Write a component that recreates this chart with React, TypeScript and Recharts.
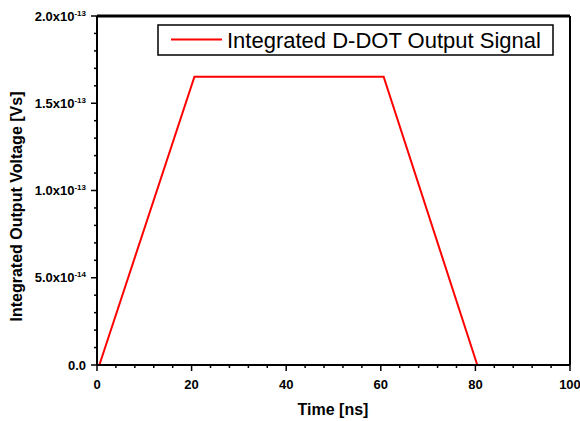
import { Legend, Line, LineChart, ReferenceLine, XAxis, YAxis } from "recharts";

const times = [0.5, 20.6, 60.6, 80.4];
const volts = [0, 1.652e-13, 1.652e-13, 0];

const xTicks = [0, 4, 8, 12, 16, 20, 24, 28, 32, 36, 40, 44, 48, 52, 56, 60, 64, 68, 72, 76, 80, 84, 88, 92, 96, 100];
const xMajor = [0, 20, 40, 60, 80, 100];
const yTicks = [
  0, 1e-14, 2e-14, 3e-14, 4e-14, 5e-14, 6e-14, 7e-14, 8e-14, 9e-14, 1e-13,
  1.1e-13, 1.2e-13, 1.3e-13, 1.4e-13, 1.5e-13, 1.6e-13, 1.7e-13, 1.8e-13, 1.9e-13, 2e-13,
];
const yMajor = [0, 5e-14, 1e-13, 1.5e-13, 2e-13];
const xMax = 100;
const yMax = 2e-13;

const seriesName = "Integrated D-DOT Output Signal";

const data = times.map((t, i) => ({ t, v: volts[i] }));

const FONT = "'Liberation Sans', Arial, sans-serif";

function isMajor(list: number[], v: number) {
  return list.some((m) => Math.abs(m - v) < Math.abs(m) * 1e-6 + 1e-30);
}

function XTick(props: any) {
  const { x, y, payload } = props;
  const major = isMajor(xMajor, payload.value);
  return (
    <g>
      <line x1={x} x2={x} y1={y} y2={y + (major ? 6 : 3)} stroke="#000" strokeWidth={1.5} />
      {major && (
        <text x={x} y={y + 23.5} textAnchor="middle" fontFamily={FONT} fontWeight="bold" fontSize={13} fill="#000">
          {payload.value}
        </text>
      )}
    </g>
  );
}

function YTick(props: any) {
  const { x, y, payload } = props;
  const v: number = payload.value;
  const major = isMajor(yMajor, v);
  let base = "0.0";
  let exp = "";
  if (v !== 0) {
    const e = Math.floor(Math.log10(v) + 1e-9);
    base = (v / Math.pow(10, e)).toFixed(1) + "x10";
    exp = String(e);
  }
  return (
    <g>
      <line x1={x - (major ? 6 : 3)} x2={x} y1={y} y2={y} stroke="#000" strokeWidth={1.5} />
      {major && (
        <text x={x - 11} y={y + 4.5} textAnchor="end" fontFamily={FONT} fontWeight="bold" fontSize={13} fill="#000">
          {base}
          {exp && (
            <tspan dy={-5} fontSize={8}>
              {exp}
            </tspan>
          )}
        </text>
      )}
    </g>
  );
}

function Title(props: any) {
  const { px, py, rot, text } = props;
  return (
    <text
      x={px}
      y={py}
      transform={rot ? `rotate(${rot} ${px} ${py})` : undefined}
      textAnchor="middle"
      fontFamily={FONT}
      fontWeight="bold"
      fontSize={16}
      fill="#000"
    >
      {text}
    </text>
  );
}

function LegendBox() {
  return (
    <svg width={398} height={33} style={{ display: "block" }}>
      <rect x={1} y={1} width={395} height={30} fill="#fff" stroke="#000" strokeWidth={1.5} />
      <line x1={14} x2={65} y1={15.5} y2={15.5} stroke="#ff0000" strokeWidth={2} />
      <text x={70} y={23.5} fontFamily={FONT} fontSize={22} fill="#000">
        {seriesName}
      </text>
    </svg>
  );
}

export default function App() {
  return (
    <div style={{ position: "absolute", left: 0, top: 0, background: "#fff" }}>
      <LineChart width={580} height={421} data={data} margin={{ top: 16, right: 10, left: 0, bottom: 0 }}>
        <XAxis
          dataKey="t"
          type="number"
          domain={[0, xMax]}
          ticks={xTicks}
          interval={0}
          height={56}
          tickSize={0}
          tickMargin={0}
          tickLine={false}
          tick={<XTick />}
          axisLine={{ stroke: "#000", strokeWidth: 2 }}
          label={<Title px={333} py={415} text="Time [ns]" />}
        />
        <YAxis
          type="number"
          domain={[0, yMax]}
          ticks={yTicks}
          interval={0}
          width={97}
          tickSize={0}
          tickMargin={0}
          tickLine={false}
          tick={<YTick />}
          axisLine={{ stroke: "#000", strokeWidth: 2 }}
          label={<Title px={21.5} py={206.5} rot={-90} text="Integrated Output Voltage [Vs]" />}
        />
        <ReferenceLine y={yMax} stroke="#000" strokeWidth={3} />
        <ReferenceLine x={xMax} stroke="#000" strokeWidth={2} />
        <Legend
          layout="horizontal"
          verticalAlign="middle"
          align="center"
          content={() => <LegendBox />}
          wrapperStyle={{ left: 157, top: 24, width: 398, height: 33 }}
        />
        <Line
          type="linear"
          dataKey="v"
          name={seriesName}
          stroke="#ff0000"
          strokeWidth={2}
          dot={false}
          isAnimationActive={false}
        />
      </LineChart>
    </div>
  );
}
